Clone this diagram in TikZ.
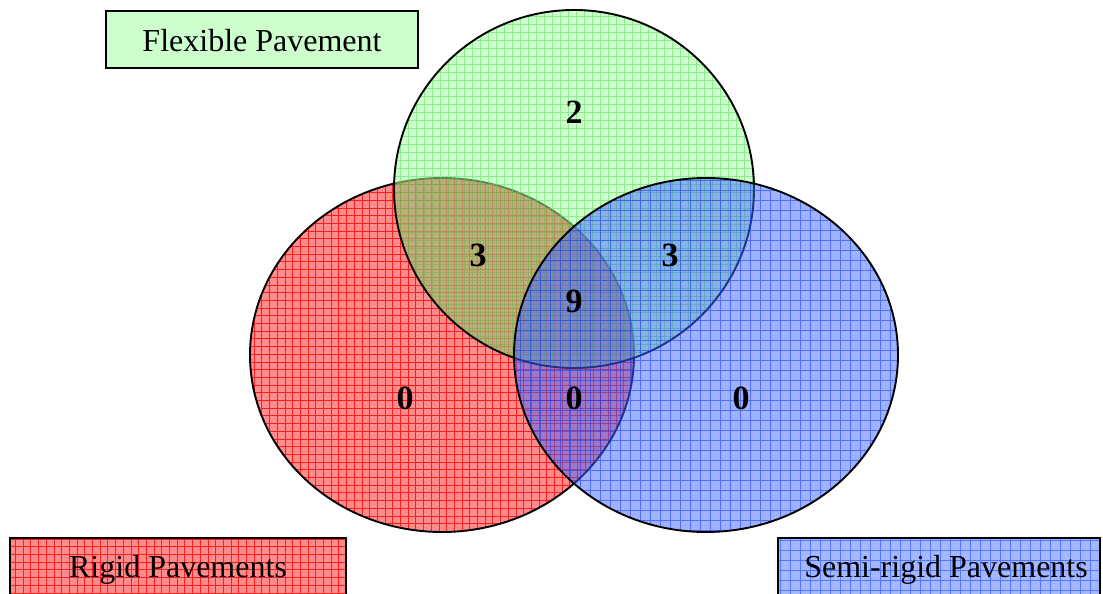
\documentclass[tikz,border=0pt]{standalone}
\usepackage{fontspec}
\setmainfont{Liberation Serif}
\definecolor{redfill}{HTML}{FF8C8C}
\definecolor{redline}{HTML}{FF1E1E}
\definecolor{greenfill}{HTML}{A4FFA4}
\definecolor{greenline}{HTML}{55E055}
\definecolor{bluefill}{HTML}{4066FF}
\definecolor{blueline}{HTML}{1038F0}
\definecolor{tantint}{HTML}{965F32}
\definecolor{flexbox}{HTML}{CCFFCC}
\definecolor{rigidbox}{HTML}{FF8C8C}
\definecolor{semibox}{HTML}{A3B8FF}
\definecolor{semiline}{HTML}{5577FF}
\begin{document}
\begin{tikzpicture}[x=1pt,y=-1pt,
  outline/.style={draw=black, line width=1.9pt},
  lbl/.style={font=\fontsize{32}{38}\selectfont, inner sep=0pt},
  num/.style={font=\fontsize{34}{40}\selectfont\bfseries, inner sep=0pt}]
\useasboundingbox (0,0) rectangle (1103,594);

% ---------- label boxes ----------
\fill[flexbox] (106,11) rectangle (418,68);
\draw[outline] (106,11) rectangle (418,68);
\node[lbl] (flexlbl) at (262,41) {Flexible Pavement};

\fill[rigidbox] (10,538) rectangle (346,600);
\begin{scope}
  \clip (10,538) rectangle (346,600);
  \draw[redline, line width=0.7pt, step=7.7pt] (0,530) grid (350,600);
\end{scope}
\draw[outline] (10,600) -- (10,538) -- (346,538) -- (346,600);
\node[lbl] (rigidlbl) at (178,570) {Rigid Pavements};

\fill[semibox] (778,538) rectangle (1100,600);
\begin{scope}
  \clip (778,538) rectangle (1100,600);
  \draw[semiline, line width=0.7pt, step=10pt] (770,530) grid (1103,600);
\end{scope}
\draw[outline] (778,600) -- (778,538) -- (1100,538) -- (1100,600);
\node[lbl] (semilbl) at (946,570) {Semi-rigid Pavements};

% ---------- red ellipse (Rigid) ----------
\fill[redfill] (442,355) ellipse [x radius=192, y radius=177];
\begin{scope}
  \clip (442,355) ellipse [x radius=192, y radius=177];
  \draw[redline, line width=0.7pt, step=7.7pt] (240,170) grid (640,540);
\end{scope}
\draw[outline] (442,355) ellipse [x radius=192, y radius=177];

% ---------- green ellipse (Flexible) ----------
\fill[greenfill, fill opacity=0.55] (574,189) ellipse [x radius=180, y radius=179];
\begin{scope}
  \clip (574,189) ellipse [x radius=180, y radius=179];
  \draw[greenline, line width=0.7pt, draw opacity=0.55, step=8pt] (390,5) grid (760,372);
  \clip (442,355) ellipse [x radius=192, y radius=177];
  \fill[tantint, fill opacity=0.28] (240,0) rectangle (760,372);
\end{scope}
\draw[outline] (574,189) ellipse [x radius=180, y radius=179];

% ---------- blue ellipse (Semi-rigid) ----------
\fill[bluefill, fill opacity=0.5] (706,355) ellipse [x radius=192, y radius=177];
\begin{scope}
  \clip (706,355) ellipse [x radius=192, y radius=177];
  \draw[blueline, line width=0.7pt, draw opacity=0.55, step=10pt] (510,170) grid (900,540);
\end{scope}
\draw[outline] (706,355) ellipse [x radius=192, y radius=177];

% ---------- counts ----------
\node[num] (nF)   at (574,112) {2};
\node[num] (nRF)  at (478,255) {3};
\node[num] (nFS)  at (670,255) {3};
\node[num] (nRFS) at (574,301) {9};
\node[num] (nR)   at (405,398) {0};
\node[num] (nRS)  at (574,398) {0};
\node[num] (nS)   at (741,398) {0};
\end{tikzpicture}
\end{document}
